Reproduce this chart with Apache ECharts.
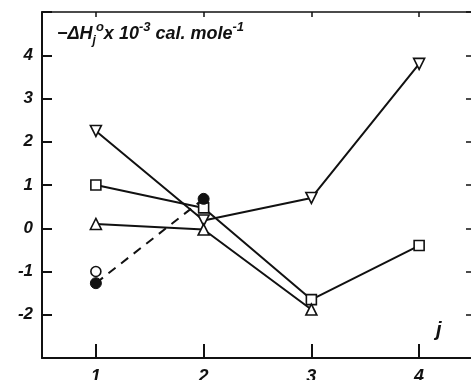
<!DOCTYPE html>
<html>
<head>
<meta charset="utf-8">
<script src="https://cdn.jsdelivr.net/npm/echarts@6/dist/echarts.min.js"></script>
<style>
  html, body { margin: 0; padding: 0; background: #fff; }
  #chart { width: 471px; height: 380px; }
</style>
</head>
<body>
<div id="chart"></div>
<script>
// j values on the x axis
var jLabels = ['1', '2', '3', '4'];
// -dH_j x 1e-3 cal/mole for each set
var downTri = [2.25, 0.18, 0.7, 3.8];
var squares = [1.0, 0.47, -1.65, -0.4];
var upTri = [0.1, -0.03, -1.88, null];
var filledCirc = [-1.27, 0.68, null, null];
var openCirc = [-1.0, null, null, null];
var yTicks = [-2, -1, 0, 1, 2, 3, 4];

var ink = '#111';
var fnt = '"Liberation Sans Narrow", "Liberation Sans", sans-serif';

function lineSeries(name, data, symbol, opts) {
  var s = {
    name: name,
    type: 'line',
    data: data,
    symbol: symbol,
    symbolSize: 11,
    showAllSymbol: true,
    connectNulls: false,
    lineStyle: { color: ink, width: 2 },
    itemStyle: { color: '#fff', borderColor: ink, borderWidth: 1.6 },
    animation: false
  };
  for (var k in opts) s[k] = opts[k];
  return s;
}

var chart = echarts.init(document.getElementById('chart'));
var option = {
  backgroundColor: '#fff',
  animation: false,
  title: {
    left: 52,
    top: 16,
    text: '{m|−ΔH}{sub|j}{sup|o}{m|x 10}{sup|-3}{m| cal. mole}{sup|-1}',
    textStyle: {
      rich: {
        m: { fontFamily: fnt, fontSize: 18, fontWeight: 'bold', fontStyle: 'italic', color: ink, verticalAlign: 'middle', lineHeight: 26 },
        sub: { fontFamily: fnt, fontSize: 12, fontWeight: 'bold', fontStyle: 'italic', color: ink, verticalAlign: 'bottom', lineHeight: 26 },
        sup: { fontFamily: fnt, fontSize: 13, fontWeight: 'bold', fontStyle: 'italic', color: ink, verticalAlign: 'top', lineHeight: 26 }
      }
    }
  },
  graphic: [{
    type: 'text',
    left: 436,
    top: 320,
    style: { text: 'j', fontFamily: fnt, fontSize: 20, fontWeight: 'bold', fontStyle: 'italic', fill: ink }
  }],
  grid: { left: 42, top: 12, width: 431, height: 346, outerBoundsMode: 'none', containLabel: false },
  xAxis: [{
    type: 'category',
    data: jLabels,
    position: 'bottom',
    boundaryGap: true,
    axisLine: { onZero: false, lineStyle: { color: ink, width: 2 } },
    axisTick: { show: true, inside: true, length: 14, alignWithLabel: true, lineStyle: { color: ink, width: 2 } },
    axisLabel: { margin: 10, fontFamily: fnt, fontSize: 18, fontWeight: 'bold', fontStyle: 'italic', color: ink },
    splitLine: { show: false }
  }, {
    type: 'category',
    data: jLabels,
    position: 'top',
    boundaryGap: true,
    axisLine: { onZero: false, lineStyle: { color: ink, width: 1.5 } },
    axisTick: { show: true, inside: true, length: 5, alignWithLabel: true, lineStyle: { color: ink, width: 1.5 } },
    axisLabel: { show: false },
    splitLine: { show: false }
  }],
  yAxis: [{
    type: 'value',
    min: -3,
    max: 5,
    interval: 1,
    position: 'left',
    axisLine: { show: true, onZero: false, lineStyle: { color: ink, width: 2 } },
    axisTick: { show: true, inside: true, length: 10, lineStyle: { color: ink, width: 2 } },
    axisLabel: {
      margin: 9,
      fontFamily: fnt, fontSize: 17, fontWeight: 'bold', fontStyle: 'italic', color: ink,
      formatter: function (v) { return yTicks.indexOf(v) >= 0 ? String(v) : ''; }
    },
    splitLine: { show: false }
  }, {
    type: 'value',
    min: -3,
    max: 5,
    interval: 1,
    position: 'right',
    axisLine: { show: false },
    axisTick: { show: true, inside: true, length: 7, lineStyle: { color: ink, width: 1.5 } },
    axisLabel: { show: false },
    splitLine: { show: false }
  }],
  series: [
    lineSeries('down', downTri, 'triangle', { symbolRotate: 180 }),
    lineSeries('square', squares, 'rect', { symbolSize: 10 }),
    lineSeries('up', upTri, 'triangle', {}),
    lineSeries('open', openCirc, 'circle', { symbolSize: 10, z: 2 }),
    lineSeries('filled', filledCirc, 'circle', {
      z: 3,
      lineStyle: { color: ink, width: 2, type: [9, 7] },
      itemStyle: { color: ink, borderColor: ink, borderWidth: 1 }
    })
  ]
};
chart.setOption(option);
</script>
</body>
</html>
